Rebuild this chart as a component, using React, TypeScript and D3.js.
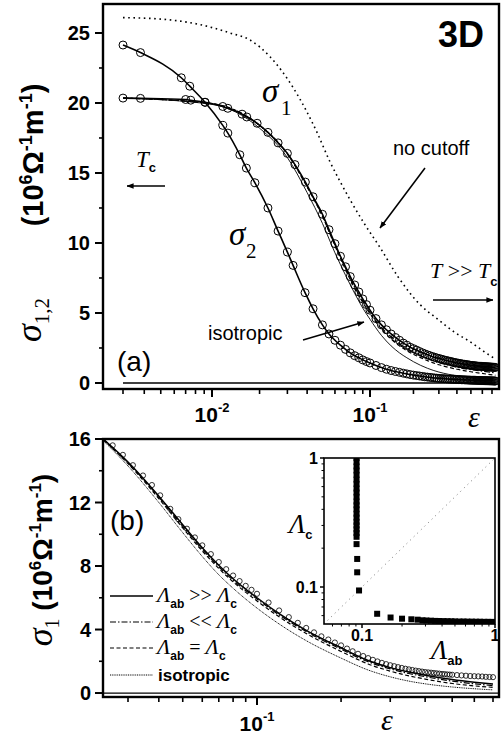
import React from 'react';
import * as d3 from 'd3';

const W = 501;
const H = 737;
const SANS = "'Liberation Sans', Arial, Helvetica, sans-serif";
const SERIF = "'Liberation Serif', 'Times New Roman', Times, serif";

// ---------- Panel (a) data ----------
const epsSigma1A = [0.003, 0.0038, 0.007, 0.0075, 0.0091, 0.0117, 0.0126, 0.0155, 0.0166, 0.0193, 0.0226, 0.0262, 0.03, 0.0335, 0.039, 0.0436, 0.05, 0.055, 0.06, 0.065, 0.07, 0.075, 0.08, 0.085, 0.09, 0.095, 0.1, 0.11, 0.12, 0.13, 0.14, 0.15, 0.16, 0.17, 0.18, 0.19,
  0.2, 0.21, 0.22, 0.23, 0.24, 0.25, 0.26, 0.27, 0.28, 0.29, 0.3, 0.31, 0.32, 0.33, 0.34, 0.35, 0.36, 0.37, 0.38, 0.39, 0.4, 0.41, 0.42, 0.43, 0.44, 0.45, 0.46, 0.47, 0.48, 0.49, 0.5, 0.51, 0.52, 0.53, 0.54, 0.55, 0.56, 0.57, 0.58, 0.59, 0.6, 0.61, 0.62, 0.63, 0.64, 0.65, 0.66, 0.67, 0.68, 0.69, 0.7, 0.71, 0.72, 0.73, 0.74];
const sigma1A = [20.35, 20.33, 20.25, 20.2, 20.05, 19.75, 19.62, 19.2, 19.0, 18.55, 17.9, 17.15, 16.4, 15.6, 14.35, 13.3, 12.05, 10.95, 9.95, 9.05, 8.3, 7.6, 7.0, 6.5, 6.0, 5.6, 5.2, 4.6, 4.15, 3.8, 3.5, 3.25, 3.05, 2.85, 2.7, 2.55,
  2.45, 2.35, 2.25, 2.16, 2.08, 2.01, 1.95, 1.89, 1.84, 1.79, 1.75, 1.71, 1.67, 1.63, 1.6, 1.57, 1.54, 1.51, 1.48, 1.455, 1.43, 1.41, 1.39, 1.37, 1.35, 1.335, 1.32, 1.305, 1.29, 1.275, 1.26, 1.25, 1.24, 1.23, 1.22, 1.21, 1.2, 1.195, 1.19, 1.185, 1.18, 1.175, 1.17, 1.165, 1.16, 1.155, 1.15, 1.145, 1.14, 1.135, 1.13, 1.125, 1.12, 1.115, 1.11];

const epsSigma2A = [0.003, 0.0038, 0.0066, 0.0074, 0.0091, 0.0117, 0.0126, 0.015, 0.0165, 0.0187, 0.0226, 0.0262, 0.03, 0.0326, 0.0388, 0.0436, 0.05, 0.055, 0.06, 0.065, 0.07, 0.075, 0.08, 0.085, 0.09, 0.095, 0.1, 0.11, 0.12, 0.13, 0.14, 0.15, 0.16, 0.17, 0.18, 0.19,
  0.2, 0.21, 0.22, 0.23, 0.24, 0.25, 0.26, 0.27, 0.28, 0.29, 0.3, 0.31, 0.32, 0.33, 0.34, 0.35, 0.36, 0.37, 0.38, 0.39, 0.4, 0.41, 0.42, 0.43, 0.44, 0.45, 0.46, 0.47, 0.48, 0.49, 0.5, 0.51, 0.52, 0.53, 0.54, 0.55, 0.56, 0.57, 0.58, 0.59, 0.6, 0.61, 0.62, 0.63, 0.64, 0.65, 0.66, 0.67, 0.68, 0.69, 0.7, 0.71, 0.72, 0.73, 0.74];
const sigma2A = [24.14, 23.6, 21.8, 21.2, 20.05, 18.4, 17.85, 16.3, 15.35, 14.3, 12.5, 10.85, 9.35, 8.4, 6.45, 5.3, 4.15, 3.5, 3.05, 2.7, 2.4, 2.15, 1.95, 1.8, 1.65, 1.53, 1.43, 1.25, 1.1, 0.98, 0.89, 0.82, 0.76, 0.7, 0.65, 0.6,
  0.56, 0.53, 0.5, 0.47, 0.44, 0.42, 0.4, 0.38, 0.36, 0.345, 0.33, 0.32, 0.31, 0.3, 0.29, 0.28, 0.27, 0.265, 0.26, 0.255, 0.25, 0.245, 0.24, 0.235, 0.23, 0.225, 0.22, 0.215, 0.21, 0.205, 0.2, 0.198, 0.195, 0.192, 0.19, 0.187, 0.185, 0.182, 0.18, 0.177, 0.175, 0.172, 0.17, 0.167, 0.165, 0.162, 0.16, 0.157, 0.155, 0.152, 0.15, 0.147, 0.145, 0.142, 0.14];

const epsNoCutoffA = [0.003, 0.0049, 0.0085, 0.013, 0.0174, 0.0233, 0.0326, 0.0462, 0.0558, 0.0646, 0.0747, 0.093, 0.117, 0.156, 0.222, 0.291, 0.388, 0.493, 0.625, 0.74];
const sigmaNoCutoffA = [26.1, 26.0, 25.6, 25.0, 24.5, 23.3, 21.1, 17.9, 15.8, 14.4, 13.1, 11.3, 9.7, 7.6, 5.6, 4.6, 3.6, 2.95, 2.2, 1.7];

const epsVariantsA = [0.003, 0.01, 0.02, 0.03, 0.04, 0.05, 0.06, 0.07, 0.08, 0.09, 0.1, 0.12, 0.14, 0.16, 0.18, 0.2, 0.25, 0.3, 0.35, 0.4, 0.5, 0.6, 0.74];
const sigmaDashedA = [20.35, 19.95, 18.4, 16.35, 14.0, 11.9, 9.8, 8.1, 6.75, 5.75, 4.95, 3.85, 3.15, 2.65, 2.3, 2.05, 1.6, 1.3, 1.12, 0.98, 0.8, 0.68, 0.55];
const sigmaDashDotA = [20.35, 19.95, 18.4, 16.38, 14.05, 11.95, 9.85, 8.2, 6.85, 5.85, 5.05, 3.95, 3.3, 2.8, 2.45, 2.2, 1.75, 1.45, 1.27, 1.12, 0.95, 0.84, 0.72];
const sigmaIsoA = [20.35, 19.9, 18.2, 16.1, 13.6, 11.4, 9.3, 7.7, 6.4, 5.35, 4.55, 3.4, 2.65, 2.15, 1.8, 1.52, 1.05, 0.78, 0.62, 0.52, 0.38, 0.3, 0.22];

const epsZeroA = [0.003, 0.74];
const sigmaZeroA = [0, 0];

const yMajorA = [0, 5, 10, 15, 20, 25];
const yMinorA = [2.5, 7.5, 12.5, 17.5, 22.5];
const xMajorA = [0.01, 0.1];
const xMajorLabelsA = ['-2', '-1'];
const xMinorA = [0.003, 0.004, 0.005, 0.006, 0.007, 0.008, 0.009, 0.02, 0.03, 0.04, 0.05, 0.06, 0.07, 0.08, 0.09, 0.2, 0.3, 0.4, 0.5, 0.6, 0.7];

// ---------- Panel (b) data ----------
const epsCirclesB = [0.026, 0.0286, 0.0314, 0.0345, 0.0375, 0.0405, 0.0445, 0.048, 0.052, 0.056, 0.06, 0.065, 0.07, 0.075, 0.08, 0.085, 0.09, 0.095, 0.1,
  0.11, 0.12, 0.13, 0.14, 0.15, 0.16, 0.17, 0.18, 0.19,
  0.2, 0.21, 0.22, 0.23, 0.24, 0.25, 0.26, 0.27, 0.28, 0.29, 0.3, 0.31, 0.32, 0.33, 0.34, 0.35, 0.36, 0.37, 0.38, 0.39, 0.4, 0.41, 0.42, 0.43, 0.44, 0.45, 0.46, 0.47, 0.48, 0.49, 0.5,
  0.52, 0.54, 0.56, 0.58, 0.6, 0.62, 0.64, 0.66, 0.68, 0.7];
const sigmaCirclesB = [15.6, 15.0, 14.35, 13.7, 13.1, 12.45, 11.6, 10.95, 10.35, 9.8, 9.3, 8.75, 8.25, 7.8, 7.4, 7.05, 6.75, 6.5, 6.25,
  5.7, 5.2, 4.78, 4.42, 4.1, 3.82, 3.57, 3.37, 3.18,
  3.0, 2.8, 2.63, 2.47, 2.33, 2.2, 2.09, 1.99, 1.9, 1.82, 1.75, 1.69, 1.63, 1.58, 1.53, 1.49, 1.45, 1.41, 1.38, 1.35, 1.32, 1.3, 1.28, 1.26, 1.24, 1.22, 1.2, 1.19, 1.17, 1.16, 1.15,
  1.13, 1.11, 1.09, 1.07, 1.06, 1.05, 1.04, 1.02, 1.01, 1.0];

const epsLinesB = [0.0238, 0.03, 0.04, 0.05, 0.06, 0.07, 0.08, 0.1, 0.12, 0.15, 0.2, 0.25, 0.3, 0.35, 0.4, 0.5, 0.6, 0.7];
const sigmaSolidB = [16.0, 14.55, 12.4, 10.6, 9.15, 8.05, 7.2, 6.0, 5.0, 3.95, 2.85, 2.05, 1.6, 1.32, 1.12, 0.85, 0.68, 0.56];
const sigmaDashDotB = [16.0, 14.5, 12.35, 10.5, 9.05, 7.95, 7.1, 5.92, 4.92, 3.87, 2.76, 1.97, 1.52, 1.23, 1.03, 0.75, 0.58, 0.47];
const sigmaDashedB = [15.95, 14.45, 12.25, 10.4, 8.95, 7.85, 7.0, 5.8, 4.8, 3.75, 2.62, 1.83, 1.38, 1.08, 0.88, 0.6, 0.45, 0.36];
const sigmaIsoB = [15.9, 14.3, 12.0, 10.1, 8.6, 7.45, 6.6, 5.35, 4.35, 3.3, 2.2, 1.45, 1.02, 0.75, 0.58, 0.38, 0.27, 0.2];

const epsZeroB = [0.0238, 0.735];
const sigmaZeroB = [0, 0];

const yMajorB = [0, 4, 8, 12, 16];
const yMinorB = [2, 6, 10, 14];
const xMajorB = [0.1];
const xMajorLabelsB = ['-1'];
const xMinorB = [0.03, 0.04, 0.05, 0.06, 0.07, 0.08, 0.09, 0.2, 0.3, 0.4, 0.5, 0.6, 0.7];

const legendLabelsB = ['>>', '<<', '='];

// ---------- Inset data ----------
const insetAb = [0.091, 0.091, 0.091, 0.091, 0.091, 0.091, 0.091, 0.091, 0.091, 0.091, 0.091, 0.091, 0.091, 0.091, 0.091, 0.091, 0.091, 0.091, 0.091, 0.091, 0.091, 0.092, 0.092, 0.095, 0.13, 0.164, 0.2, 0.235, 0.262, 0.285, 0.305, 0.33, 0.355, 0.38, 0.41, 0.44, 0.47, 0.5, 0.54, 0.58, 0.62, 0.67, 0.72, 0.77, 0.83, 0.89, 0.95, 0.99];
const insetC = [1, 0.93, 0.86, 0.8, 0.74, 0.68, 0.63, 0.58, 0.54, 0.5, 0.46, 0.43, 0.4, 0.37, 0.345, 0.32, 0.3, 0.28, 0.262, 0.245, 0.215, 0.165, 0.13, 0.094, 0.062, 0.058, 0.0568, 0.0562, 0.0558, 0.0552, 0.055, 0.0548, 0.0546, 0.0545, 0.0544, 0.0543, 0.0542, 0.0541, 0.054, 0.054, 0.0539, 0.0539, 0.0538, 0.0538, 0.0537, 0.0537, 0.0536, 0.0536];
const insetDiagonal = [0.0518, 1];
const insetMajor = [0.1, 1];
const insetMajorLabels = ['0.1', '1'];
const insetMinor = [0.06, 0.07, 0.08, 0.09, 0.2, 0.3, 0.4, 0.5, 0.6, 0.7, 0.8, 0.9];

function mkLine(sx: any, sy: any, xs: number[], ys: number[]) {
  const n = Math.min(xs.length, ys.length);
  return d3
    .line<number>()
    .x((i) => sx(xs[i]))
    .y((i) => sy(ys[i]))
    .curve(d3.curveMonotoneX)(d3.range(n)) as string;
}

export default function App() {
  // panel (a)
  const xA = d3.scaleLog().domain([0.003, 0.01, 0.1, 0.7]).range([123, 212, 370, 492]);
  const yA = d3.scaleLinear().domain([-0.43, 27.07]).range([389, 4]);
  const boxA = { l: 103, r: 499, t: 4, b: 389 };
  // panel (b)
  const xB = d3.scaleLog().domain([0.03, 0.1, 0.7]).range([128, 257, 493]);
  const yB = d3.scaleLinear().domain([-0.25, 16]).range([697, 439]);
  const boxB = { l: 103, r: 499, t: 439, b: 697 };
  // inset
  const xI = d3.scaleLog().domain([0.1, 1]).range([362, 495]);
  const yI = d3.scaleLog().domain([0.1, 1]).range([587, 458]);
  const boxI = { l: 324, r: 495, t: 458, b: 624 };

  const nA1 = Math.min(epsSigma1A.length, sigma1A.length);
  const nA2 = Math.min(epsSigma2A.length, sigma2A.length);
  const nB = Math.min(epsCirclesB.length, sigmaCirclesB.length);
  const nI = Math.min(insetAb.length, insetC.length);

  const legendStyles = [
    { dash: undefined, w: 1.5 },
    { dash: '6 2 1.5 2', w: 1.2 },
    { dash: '4 2.5', w: 1.2 },
    { dash: '1 0.8', w: 1 },
  ];
  const legendY = [596, 622, 648, 675];

  return (
    <svg width={W} height={H} style={{ position: 'absolute', left: 0, top: 0, background: '#fff' }}>
      <defs>
        <marker id="ah" viewBox="0 0 10 8" refX="9.5" refY="4" markerWidth="7" markerHeight="6" orient="auto" markerUnits="userSpaceOnUse">
          <path d="M0,0 L10,4 L0,8 z" fill="#000" />
        </marker>
        <clipPath id="clipA">
          <rect x={boxA.l} y={boxA.t} width={boxA.r - boxA.l} height={boxA.b - boxA.t} />
        </clipPath>
        <clipPath id="clipB">
          <rect x={boxB.l} y={boxB.t} width={boxB.r - boxB.l} height={boxB.b - boxB.t} />
        </clipPath>
        <clipPath id="clipI">
          <rect x={boxI.l} y={boxI.t} width={boxI.r - boxI.l} height={boxI.b - boxI.t} />
        </clipPath>
      </defs>
      <rect x={0} y={0} width={W} height={H} fill="#fff" />

      {/* ================= Panel (a) ================= */}
      <g clipPath="url(#clipA)">
        <path d={mkLine(xA, yA, epsZeroA, sigmaZeroA)} fill="none" stroke="#000" strokeWidth={1.3} />
        <path d={mkLine(xA, yA, epsNoCutoffA, sigmaNoCutoffA)} fill="none" stroke="#000" strokeWidth={1.6} strokeDasharray="1.6 3.6" />
        <path d={mkLine(xA, yA, epsVariantsA, sigmaIsoA)} fill="none" stroke="#000" strokeWidth={0.9} />
        <path d={mkLine(xA, yA, epsVariantsA, sigmaDashedA)} fill="none" stroke="#000" strokeWidth={1.2} strokeDasharray="4 2.5" />
        <path d={mkLine(xA, yA, epsVariantsA, sigmaDashDotA)} fill="none" stroke="#000" strokeWidth={1.2} strokeDasharray="6 2 1.5 2" />
        <path d={mkLine(xA, yA, epsSigma1A, sigma1A)} fill="none" stroke="#000" strokeWidth={1.6} />
        <path d={mkLine(xA, yA, epsSigma2A, sigma2A)} fill="none" stroke="#000" strokeWidth={1.6} />
        {d3.range(nA1).map((i) => (
          <circle key={'s1' + i} cx={xA(epsSigma1A[i])} cy={yA(sigma1A[i])} r={4} fill="none" stroke="#000" strokeWidth={1} />
        ))}
        {d3.range(nA2).map((i) => (
          <circle key={'s2' + i} cx={xA(epsSigma2A[i])} cy={yA(sigma2A[i])} r={4} fill="none" stroke="#000" strokeWidth={1} />
        ))}
      </g>
      <rect x={boxA.l} y={boxA.t} width={boxA.r - boxA.l} height={boxA.b - boxA.t} fill="none" stroke="#000" strokeWidth={2.4} />
      {yMajorA.map((v) => (
        <g key={'yA' + v}>
          <line x1={boxA.l - 8} x2={boxA.l} y1={yA(v)} y2={yA(v)} stroke="#000" strokeWidth={2} />
          <text x={90} y={yA(v) + 7} textAnchor="end" fontFamily={SANS} fontWeight="bold" fontSize={20}>{v}</text>
        </g>
      ))}
      {yMinorA.map((v) => (
        <line key={'ymA' + v} x1={boxA.l - 4} x2={boxA.l} y1={yA(v)} y2={yA(v)} stroke="#000" strokeWidth={1.6} />
      ))}
      {xMajorA.map((v, i) => (
        <g key={'xA' + v}>
          <line x1={xA(v)} x2={xA(v)} y1={boxA.b} y2={boxA.b + 8} stroke="#000" strokeWidth={2} />
          <text x={xA(v)} y={422} textAnchor="middle" fontFamily={SANS} fontWeight="bold" fontSize={21}>
            10<tspan dy={-10} fontSize={13}>{xMajorLabelsA[i]}</tspan>
          </text>
        </g>
      ))}
      {xMinorA.map((v) => (
        <line key={'xmA' + v} x1={xA(v)} x2={xA(v)} y1={boxA.b} y2={boxA.b + 5} stroke="#000" strokeWidth={1.6} />
      ))}
      <text x={468} y={427} fontFamily={SERIF} fontStyle="italic" fontSize={30}>ε</text>

      {/* y label (a) */}
      <text transform="translate(43,155) rotate(-90)" textAnchor="middle" fontFamily={SANS} fontWeight="bold" fontSize={29}>
        (10<tspan dy={-11} fontSize={18}>6</tspan><tspan dy={11}>Ω</tspan><tspan dy={-11} fontSize={18}>-1</tspan><tspan dy={11}>m</tspan><tspan dy={-11} fontSize={18}>-1</tspan><tspan dy={11}>)</tspan>
      </text>
      <text transform="translate(41,320) rotate(-90)" textAnchor="middle" fontFamily={SERIF}>
        <tspan fontStyle="italic" fontSize={36}>σ</tspan><tspan fontSize={21} dy={8}>1,2</tspan>
      </text>

      {/* annotations (a) */}
      <text x={484} y={47} textAnchor="end" fontFamily={SANS} fontWeight="bold" fontSize={36}>3D</text>
      <text x={117} y={371} fontFamily={SANS} fontSize={28}>(a)</text>
      <text x={262} y={102} fontFamily={SERIF} fontStyle="italic" fontSize={33}>σ</text>
      <text x={281} y={115} fontFamily={SERIF} fontSize={21}>1</text>
      <text x={229} y={245} fontFamily={SERIF} fontStyle="italic" fontSize={33}>σ</text>
      <text x={246} y={258} fontFamily={SERIF} fontSize={21}>2</text>
      <text x={393} y={155} fontFamily={SANS} fontSize={20}>no cutoff</text>
      <line x1={425} y1={168} x2={380} y2={228} stroke="#000" strokeWidth={1.5} markerEnd="url(#ah)" />
      <text x={136} y={167} fontFamily={SERIF} fontStyle="italic" fontSize={23}>
        T<tspan dy={5} fontFamily={SANS} fontStyle="normal" fontWeight="bold" fontSize={13}>c</tspan>
      </text>
      <line x1={165} y1={186} x2={127} y2={186} stroke="#000" strokeWidth={1.5} markerEnd="url(#ah)" />
      <text x={430} y={278} fontFamily={SERIF} fontStyle="italic" fontSize={22}>
        T<tspan fontStyle="normal"> &gt;&gt; </tspan>T<tspan dy={8} fontFamily={SANS} fontStyle="normal" fontWeight="bold" fontSize={13}>c</tspan>
      </text>
      <line x1={433} y1={300} x2={493} y2={300} stroke="#000" strokeWidth={1.5} markerEnd="url(#ah)" />
      <text x={208} y={340} fontFamily={SANS} fontSize={20}>isotropic</text>
      <line x1={303} y1={340} x2={364} y2={322} stroke="#000" strokeWidth={1.5} markerEnd="url(#ah)" />

      {/* ================= Panel (b) ================= */}
      <g clipPath="url(#clipB)">
        <path d={mkLine(xB, yB, epsZeroB, sigmaZeroB)} fill="none" stroke="#000" strokeWidth={1.3} />
        <path d={mkLine(xB, yB, epsLinesB, sigmaIsoB)} fill="none" stroke="#000" strokeWidth={1} strokeDasharray="1 0.8" />
        <path d={mkLine(xB, yB, epsLinesB, sigmaDashedB)} fill="none" stroke="#000" strokeWidth={1.2} strokeDasharray="4 2.5" />
        <path d={mkLine(xB, yB, epsLinesB, sigmaDashDotB)} fill="none" stroke="#000" strokeWidth={1.2} strokeDasharray="6 2 1.5 2" />
        <path d={mkLine(xB, yB, epsLinesB, sigmaSolidB)} fill="none" stroke="#000" strokeWidth={1.5} />
        {d3.range(nB).map((i) => (
          <circle key={'cb' + i} cx={xB(epsCirclesB[i])} cy={yB(sigmaCirclesB[i])} r={2.6} fill="none" stroke="#000" strokeWidth={0.8} />
        ))}
      </g>
      <rect x={boxB.l} y={boxB.t} width={boxB.r - boxB.l} height={boxB.b - boxB.t} fill="none" stroke="#000" strokeWidth={2.4} />
      {yMajorB.map((v) => (
        <g key={'yB' + v}>
          <line x1={boxB.l - 8} x2={boxB.l} y1={yB(v)} y2={yB(v)} stroke="#000" strokeWidth={2} />
          <text x={91} y={yB(v) + 7} textAnchor="end" fontFamily={SANS} fontWeight="bold" fontSize={20}>{v}</text>
        </g>
      ))}
      {yMinorB.map((v) => (
        <line key={'ymB' + v} x1={boxB.l - 4} x2={boxB.l} y1={yB(v)} y2={yB(v)} stroke="#000" strokeWidth={1.6} />
      ))}
      {xMajorB.map((v, i) => (
        <g key={'xB' + v}>
          <line x1={xB(v)} x2={xB(v)} y1={boxB.b} y2={boxB.b + 8} stroke="#000" strokeWidth={2} />
          <text x={xB(v)} y={731} textAnchor="middle" fontFamily={SANS} fontWeight="bold" fontSize={21}>
            10<tspan dy={-10} fontSize={13}>{xMajorLabelsB[i]}</tspan>
          </text>
        </g>
      ))}
      {xMinorB.map((v) => (
        <line key={'xmB' + v} x1={xB(v)} x2={xB(v)} y1={boxB.b} y2={boxB.b + 5} stroke="#000" strokeWidth={1.6} />
      ))}
      <text x={381} y={730} fontFamily={SERIF} fontStyle="italic" fontSize={30}>ε</text>

      {/* y label (b) */}
      <text transform="translate(52,560) rotate(-90)" textAnchor="middle" fontFamily={SANS} fontWeight="bold" fontSize={28}>
        <tspan fontFamily={SERIF} fontWeight="normal" fontStyle="italic" fontSize={36}>σ</tspan><tspan fontFamily={SERIF} fontWeight="normal" fontSize={20} dy={7}>1</tspan><tspan dy={-7}> (10</tspan><tspan dy={-11} fontSize={17}>6</tspan><tspan dy={11}>Ω</tspan><tspan dy={-11} fontSize={17}>-1</tspan><tspan dy={11}>m</tspan><tspan dy={-11} fontSize={17}>-1</tspan><tspan dy={11}>)</tspan>
      </text>

      <text x={110} y={530} fontFamily={SANS} fontSize={28}>(b)</text>

      {/* legend (b) */}
      {legendStyles.map((s, i) => (
        <line key={'lg' + i} x1={110} x2={153} y1={legendY[i]} y2={legendY[i]} stroke="#000" strokeWidth={s.w} strokeDasharray={s.dash} />
      ))}
      {legendLabelsB.map((op, i) => (
        <text key={'lt' + i} x={157} y={legendY[i] + 6} fontFamily={SERIF} fontStyle="italic" fontSize={22}>
          Λ<tspan dy={6} fontFamily={SANS} fontStyle="normal" fontWeight="bold" fontSize={12}>ab</tspan>
          <tspan dy={-6} fontStyle="normal" fontSize={20}>{' ' + op + ' '}</tspan>Λ<tspan dy={6} fontFamily={SANS} fontStyle="normal" fontWeight="bold" fontSize={12}>c</tspan>
        </text>
      ))}
      <text x={158} y={legendY[3] + 6} fontFamily={SANS} fontWeight="bold" fontSize={17}>isotropic</text>

      {/* ================= Inset ================= */}
      <rect x={boxI.l} y={boxI.t} width={boxI.r - boxI.l} height={boxI.b - boxI.t} fill="#fff" />
      <g clipPath="url(#clipI)">
        <line x1={xI(insetDiagonal[0])} y1={yI(insetDiagonal[0])} x2={xI(insetDiagonal[1])} y2={yI(insetDiagonal[1])} stroke="#777" strokeWidth={1} strokeDasharray="1 4" />
        {d3.range(nI).map((i) => (
          <rect key={'iq' + i} x={xI(insetAb[i]) - 3} y={yI(insetC[i]) - 3} width={6} height={6} fill="#000" />
        ))}
      </g>
      <rect x={boxI.l} y={boxI.t} width={boxI.r - boxI.l} height={boxI.b - boxI.t} fill="none" stroke="#000" strokeWidth={1.6} />
      {insetMajor.map((v, i) => (
        <g key={'im' + v}>
          <line x1={boxI.l - 4} x2={boxI.l} y1={yI(v)} y2={yI(v)} stroke="#000" strokeWidth={1.5} />
          <text x={318} y={yI(v) + 6} textAnchor="end" fontFamily={SANS} fontWeight="bold" fontSize={16}>{insetMajorLabels[i]}</text>
          <line x1={xI(v)} x2={xI(v)} y1={boxI.b} y2={boxI.b + 4} stroke="#000" strokeWidth={1.5} />
          <text x={xI(v)} y={641} textAnchor="middle" fontFamily={SANS} fontWeight="bold" fontSize={16}>{insetMajorLabels[i]}</text>
        </g>
      ))}
      {insetMinor.map((v) => (
        <g key={'imn' + v}>
          <line x1={boxI.l - 2.5} x2={boxI.l} y1={yI(v)} y2={yI(v)} stroke="#000" strokeWidth={1} />
          <line x1={xI(v)} x2={xI(v)} y1={boxI.b} y2={boxI.b + 2.5} stroke="#000" strokeWidth={1} />
        </g>
      ))}
      <text x={289} y={533} fontFamily={SERIF} fontStyle="italic" fontSize={27}>
        Λ<tspan dy={6} fontFamily={SANS} fontStyle="normal" fontWeight="bold" fontSize={13}>c</tspan>
      </text>
      <text x={431} y={659} fontFamily={SERIF} fontStyle="italic" fontSize={27}>
        Λ<tspan dy={6} fontFamily={SANS} fontStyle="normal" fontWeight="bold" fontSize={13}>ab</tspan>
      </text>
    </svg>
  );
}
